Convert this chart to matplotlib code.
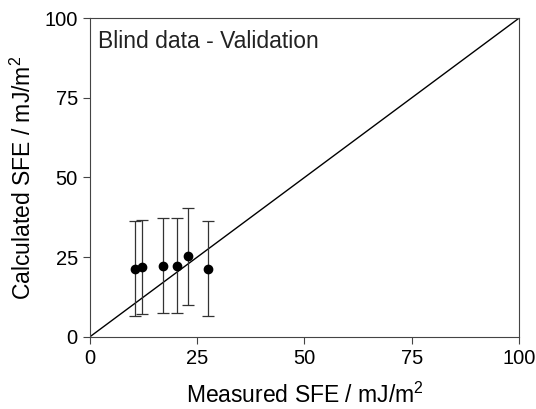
import matplotlib
matplotlib.use("Agg")
from matplotlib import pyplot as plt

plt.rcParams["font.family"] = ["Liberation Sans", "DejaVu Sans"]
plt.rcParams["mathtext.fontset"] = "custom"
plt.rcParams["mathtext.rm"] = "Liberation Sans"

# measured vs calculated SFE (mJ/m^2)
measured = [10.4, 12.2, 17.1, 20.2, 22.8, 27.6]
calculated = [21.3, 21.8, 22.3, 22.3, 25.4, 21.2]
err_low = [14.8, 14.8, 15.0, 15.0, 15.3, 14.8]
err_high = [14.9, 15.0, 15.1, 15.0, 15.1, 15.0]
diag = [0, 100]


def main():
    fig = plt.figure(figsize=(5.36, 4.09), dpi=100)
    ax = fig.add_axes([0.168, 0.1768, 0.800, 0.7785])

    ax.plot(diag, diag, color="black", lw=1.0)
    ax.errorbar(measured, calculated, yerr=[err_low, err_high], fmt="o",
                color="black", ecolor="#333333", elinewidth=0.9,
                capsize=4.2, capthick=0.9, markersize=6)

    ax.set_xlim(0, 100)
    ax.set_ylim(0, 100)
    ax.set_xticks([0, 25, 50, 75, 100])
    ax.set_yticks([0, 25, 50, 75, 100])
    ax.tick_params(direction="out", labelsize=14.5, length=5.3, pad=3.5,
                   color="#444444")
    for s in ax.spines.values():
        s.set_color("#444444")

    ax.set_xlabel("Measured SFE / mJ/m$^\\mathregular{2}$", fontsize=16.5,
                  labelpad=11)
    ax.set_ylabel("Calculated SFE / mJ/m$^\\mathregular{2}$", fontsize=16.5,
                  labelpad=6)
    ax.text(0.019, 0.963, "Blind data - Validation", transform=ax.transAxes,
            fontsize=16.5, va="top", ha="left", color="#222222")

    fig.savefig("out.png", dpi=100)


if __name__ == "__main__":
    main()
